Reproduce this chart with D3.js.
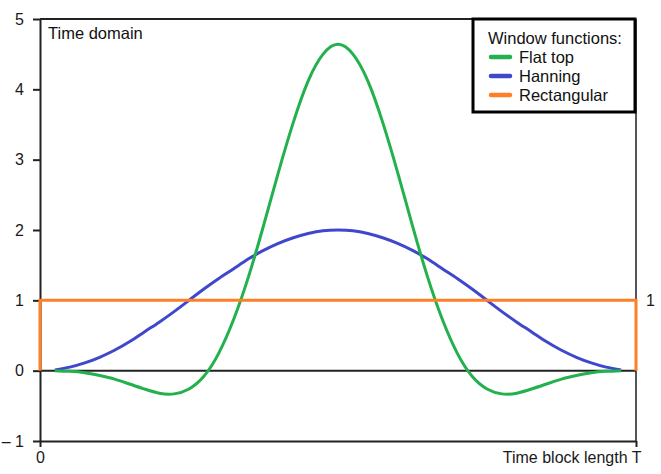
<html>
<head>
<meta charset="utf-8">
<title>Window functions - time domain</title>
<style>
  body { margin: 0; background: white; }
  svg { font-family: "Liberation Sans", Arial, sans-serif; }
  .tick text { fill: #1a1a1a; font-size: 16px; }
</style>
<script src="https://cdn.jsdelivr.net/npm/d3@7"></script>
</head>
<body>
<div id="chart"></div>
<script>
// time in units of the block length T
var winTime = [0.025, 0.05, 0.075, 0.1, 0.125, 0.15, 0.175, 0.2, 0.225, 0.25,
  0.275, 0.3, 0.325, 0.35, 0.375, 0.4, 0.425, 0.45, 0.475, 0.5,
  0.525, 0.55, 0.575, 0.6, 0.625, 0.65, 0.675, 0.7, 0.725, 0.75,
  0.775, 0.8, 0.825, 0.85, 0.875, 0.9, 0.925, 0.95, 0.975];

var flatTop = [0.00, -0.01, -0.03, -0.07, -0.12, -0.19, -0.26, -0.32, -0.33, -0.26,
  -0.08, 0.25, 0.73, 1.34, 2.06, 2.82, 3.53, 4.12, 4.50, 4.64,
  4.50, 4.12, 3.53, 2.82, 2.06, 1.34, 0.73, 0.25, -0.08, -0.26,
  -0.33, -0.32, -0.26, -0.19, -0.12, -0.07, -0.03, -0.01, 0.00];

var hanning = [0.01, 0.05, 0.11, 0.19, 0.29, 0.41, 0.55, 0.69, 0.84, 1.00,
  1.16, 1.31, 1.45, 1.59, 1.71, 1.81, 1.89, 1.95, 1.99, 2.00,
  1.99, 1.95, 1.89, 1.81, 1.71, 1.59, 1.45, 1.31, 1.16, 1.00,
  0.84, 0.69, 0.55, 0.41, 0.29, 0.19, 0.11, 0.05, 0.01];

var rectTime = [0, 0, 1, 1];
var rectangular = [0, 1, 1, 0];

var yTicks = [-1, 0, 1, 2, 3, 4, 5];
var rightTicks = [1];
var xTicks = [0, 1];
var xTickLabels = ["0", "Time block length T"];
var legendTitle = "Window functions:";
var seriesNames = ["Flat top", "Hanning", "Rectangular"];
var seriesColors = ["#22b14c", "#3f48cc", "#ff7f27"];

document.addEventListener("DOMContentLoaded", go);

function go() {
  var W = 661, H = 474;
  var svg = d3.select("#chart").append("svg")
      .attr("width", W)
      .attr("height", H);

  var x = d3.scaleLinear().domain([0, 1]).range([40, 636]);
  var y = d3.scaleLinear().domain([-1, 5]).range([441, 19]);

  // frame: top and right lines
  svg.append("line")
      .attr("x1", x(0)).attr("x2", x(1))
      .attr("y1", y(5)).attr("y2", y(5))
      .attr("stroke", "#222").attr("stroke-width", 2);
  svg.append("line")
      .attr("x1", x(1)).attr("x2", x(1))
      .attr("y1", y(5)).attr("y2", y(-1))
      .attr("stroke", "#555").attr("stroke-width", 2);

  // left axis
  var yAxis = svg.append("g")
      .attr("transform", "translate(" + x(0) + ",0)")
      .call(d3.axisLeft(y)
        .tickValues(yTicks)
        .tickSize(7)
        .tickSizeOuter(0)
        .tickPadding(9)
        .tickFormat(function(d) { return d < 0 ? "\u2013 " + (-d) : d; }));
  yAxis.selectAll("path, line").attr("stroke", "#222").attr("stroke-width", 2);

  // bottom axis
  var xAxis = svg.append("g")
      .attr("transform", "translate(0," + y(-1) + ")")
      .call(d3.axisBottom(x)
        .tickValues(xTicks)
        .tickSize(6)
        .tickSizeOuter(0)
        .tickPadding(5)
        .tickFormat(function(d, i) { return xTickLabels[i]; }));
  xAxis.selectAll("path, line").attr("stroke", "#222").attr("stroke-width", 2);
  xAxis.selectAll(".tick text")
      .attr("font-size", function(d, i) { return i == 1 ? 16.5 : 16; })
      .attr("text-anchor", function(d, i) { return i == 1 ? "end" : "middle"; })
      .attr("dx", function(d, i) { return i == 1 ? 5 : 0; });

  // right axis, label only
  var rAxis = svg.append("g")
      .attr("transform", "translate(" + x(1) + ",0)")
      .call(d3.axisRight(y)
        .tickValues(rightTicks)
        .tickSize(0)
        .tickPadding(10)
        .tickFormat(d3.format("d")));
  rAxis.select(".domain").remove();

  // zero line
  svg.append("line")
      .attr("x1", x(0)).attr("x2", x(1))
      .attr("y1", y(0)).attr("y2", y(0))
      .attr("stroke", "#222").attr("stroke-width", 2);

  var smooth = d3.line()
      .x(function(d, i) { return x(winTime[i]); })
      .y(function(d) { return y(d); })
      .curve(d3.curveNatural);

  svg.append("path")
      .attr("d", smooth(hanning))
      .attr("fill", "none")
      .attr("stroke", seriesColors[1])
      .attr("stroke-width", 3);

  svg.append("path")
      .attr("d", smooth(flatTop))
      .attr("fill", "none")
      .attr("stroke", seriesColors[0])
      .attr("stroke-width", 3);

  var straight = d3.line()
      .x(function(d, i) { return x(rectTime[i]); })
      .y(function(d) { return y(d); });

  svg.append("path")
      .attr("d", straight(rectangular))
      .attr("fill", "none")
      .attr("stroke", seriesColors[2])
      .attr("stroke-width", 3);

  svg.append("text")
      .attr("x", 48).attr("y", 39)
      .attr("font-size", 16.5)
      .attr("fill", "#111")
      .text("Time domain");

  // legend
  var lg = svg.append("g").attr("transform", "translate(473,19)");
  lg.append("rect")
      .attr("width", 162).attr("height", 93)
      .attr("fill", "white")
      .attr("stroke", "black").attr("stroke-width", 3);
  lg.append("text")
      .attr("x", 15).attr("y", 25)
      .attr("font-size", 16.5)
      .attr("fill", "#111")
      .text(legendTitle);
  var items = lg.selectAll(".item")
      .data(seriesNames)
      .enter().append("g")
      .attr("transform", function(d, i) { return "translate(0," + (38 + i * 19) + ")"; });
  items.append("line")
      .attr("x1", 18).attr("x2", 37)
      .attr("stroke", function(d, i) { return seriesColors[i]; })
      .attr("stroke-width", 4.5)
      .attr("stroke-linecap", "round");
  items.append("text")
      .attr("x", 46).attr("y", 6)
      .attr("font-size", 16.5)
      .attr("fill", "#111")
      .text(function(d) { return d; });
}
</script>
</body>
</html>
